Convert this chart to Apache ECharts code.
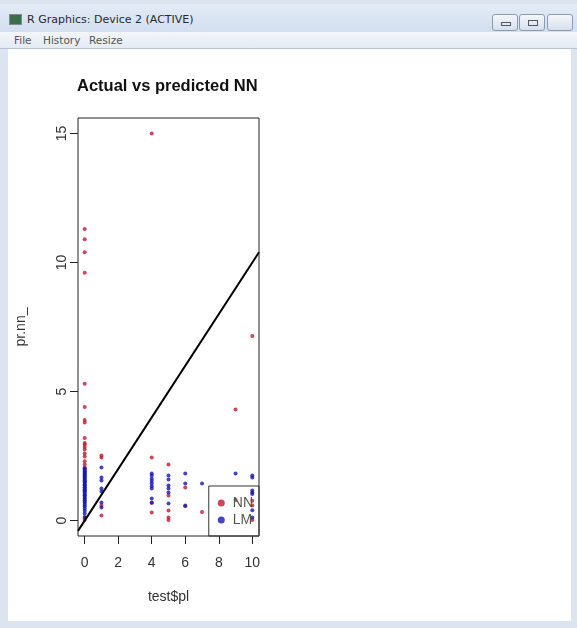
<!DOCTYPE html>
<html>
<head>
<meta charset="utf-8">
<title>Actual vs predicted NN</title>
<script src="https://cdn.jsdelivr.net/npm/echarts@6/dist/echarts.min.js"></script>
<style>
  html, body { margin: 0; padding: 0; background: #fff; }
  #win { position: relative; width: 577px; height: 628px; overflow: hidden;
         background: #dce5ef; font-family: "DejaVu Sans", "Noto Sans", sans-serif; }
  #titlebar { position: absolute; left: 0; top: 4px; width: 577px; height: 28px;
              background: linear-gradient(#e3ebf6, #d2dfef); }
  #titlebar .icon { position: absolute; left: 9px; top: 10px; width: 11px; height: 9px;
                    background: #3c6e4c; border: 1px solid #888; }
  #titlebar .txt { position: absolute; left: 27px; top: 9px; font-size: 11px; color: #2a2a2a; }
  .btn { position: absolute; top: 10px; width: 24px; height: 15px; border: 1px solid #8a9bb2;
         border-radius: 3px; background: linear-gradient(#f4f7fb, #d6e0ec); }
  .btn i { position: absolute; left: 8px; top: 5px; width: 8px; height: 4px; border: 1px solid #556; }
  #menubar { position: absolute; left: 0; top: 32px; width: 577px; height: 16px;
             background: linear-gradient(#f3f6fa, #e4ebf4); border-bottom: 1px solid #b8c4d4;
             font-size: 10.5px; color: #555; }
  #menubar span { position: absolute; top: 2px; }
  #body { position: absolute; left: 8px; top: 49px; width: 563px; height: 572px; background: #fff; }
  #main { position: absolute; left: 0; top: 0; width: 577px; height: 628px; }
</style>
</head>
<body>
<div id="win">
  <div id="titlebar">
    <div class="icon"></div>
    <div class="txt">R Graphics: Device 2 (ACTIVE)</div>
    <div class="btn" style="left:492px"><i style="height:2px;top:7px"></i></div>
    <div class="btn" style="left:519px"><i></i></div>
    <div class="btn" style="left:547px"></div>
  </div>
  <div id="menubar">
    <span style="left:14px">File</span>
    <span style="left:43px">History</span>
    <span style="left:89px">Resize</span>
  </div>
  <div id="body"></div>
  <div id="main"></div>
</div>
<script type="text/javascript">
// observed values (x = test$pl, y = predicted)
var nnX = [0,0,0,0,0,0,0,0,0,0,0,0,0,0,0,0,0,0,0,0,
           1,1,1,1,
           4,4,4,4,
           5,5,5,5,5,
           6,6,
           7,
           9,9,
           10,10,10,10];
var nnY = [11.3,10.9,10.4,9.6,5.3,4.4,3.9,3.8,3.2,3.0,2.95,2.85,2.75,2.6,2.48,2.3,2.17,2.05,0.1,0.02,
           2.52,2.44,0.58,0.19,
           15.0,2.44,0.68,0.31,
           2.17,0.97,0.39,0.12,0.02,
           1.28,0.55,
           0.33,
           4.3,0.8,
           7.15,0.77,0.58,0.02];

var lmX = [0,0,0,0,0,0,0,0,0,0,0,0,0,0,0,0,0,0,0,0,0,0,0,0,0,0,0,0,0,0,0,0,0,0,0,0,0,0,
           1,1,1,1,1,1,1,
           4,4,4,4,4,4,4,4,4,
           5,5,5,5,5,5,
           6,6,6,
           7,
           9,
           10,10,10,10,10,10,10];
var lmY = [2.02,1.98,1.93,1.9,1.85,1.82,1.77,1.74,1.71,1.66,1.63,1.57,1.55,1.5,1.47,1.41,1.38,1.35,1.29,1.26,
           1.21,1.17,1.13,1.08,1.04,0.98,0.95,0.88,0.84,0.79,0.73,0.69,0.61,0.55,0.47,0.38,0.27,0.14,
           2.05,1.67,1.55,1.24,1.12,0.7,0.5,
           1.82,1.74,1.62,1.53,1.43,1.33,1.24,0.85,0.7,
           1.74,1.59,1.36,1.24,1.09,0.66,
           1.82,1.43,0.58,
           1.43,
           1.82,
           1.74,1.67,1.16,1.09,1.03,0.4,0.12];

var xTicks = [0, 2, 4, 6, 8, 10];
var yTicks = [0, 5, 10, 15];
var xRange = [-0.4, 10.4];
var yRange = [-0.6, 15.6];
// abline(0, 1)
var ablineA = 0, ablineB = 1;

function zip(xs, ys) {
  var out = [];
  for (var i = 0; i < xs.length; i++) out.push([xs[i], ys[i]]);
  return out;
}
var ablineData = xRange.map(function (x) { return [x, ablineA + ablineB * x]; });

var FONT = '"Liberation Sans", Arial, sans-serif';
var myChart = echarts.init(document.getElementById('main'));
myChart.setOption({
  animation: false,
  backgroundColor: 'transparent',
  title: {
    text: 'Actual vs predicted NN',
    left: 77, top: 78, padding: 0,
    textStyle: { fontFamily: FONT, fontSize: 16.5, fontWeight: 'bold', color: '#111' }
  },
  grid: {
    left: 78, right: 318, top: 118, bottom: 92,
    show: true, borderColor: '#222', borderWidth: 1, backgroundColor: 'transparent'
  },
  legend: {
    orient: 'vertical',
    right: 318, bottom: 92,
    padding: [10, 6, 9, 9],
    itemGap: 3,
    itemWidth: 7, itemHeight: 7,
    icon: 'circle',
    borderColor: '#333', borderWidth: 1,
    backgroundColor: 'transparent',
    textStyle: { fontFamily: FONT, fontSize: 14, color: '#55594a', padding: [0, 0, 0, 3] },
    data: ['NN', 'LM']
  },
  xAxis: {
    type: 'value', min: xRange[0], max: xRange[1],
    splitLine: { show: false },
    axisLine: { show: false, onZero: false },
    axisTick: { show: true, inside: false, length: 8, customValues: xTicks,
                lineStyle: { color: '#222' } },
    axisLabel: { customValues: xTicks, margin: 20, fontFamily: FONT, fontSize: 14, color: '#333' },
    name: 'test$pl', nameLocation: 'middle', nameGap: 54,
    nameTextStyle: { fontFamily: FONT, fontSize: 14, color: '#333' }
  },
  yAxis: {
    type: 'value', min: yRange[0], max: yRange[1],
    splitLine: { show: false },
    axisLine: { show: false, onZero: false },
    axisTick: { show: true, inside: false, length: 8, customValues: yTicks,
                lineStyle: { color: '#222' } },
    axisLabel: { customValues: yTicks, rotate: 90, margin: 16, fontFamily: FONT, fontSize: 14,
                 color: '#333', verticalAlign: 'middle', align: 'center' },
    name: 'pr.nn_', nameLocation: 'middle', nameGap: 50, nameRotate: 90,
    nameTextStyle: { fontFamily: FONT, fontSize: 14, color: '#333' }
  },
  series: [
    {
      name: 'NN', type: 'scatter', symbol: 'circle', symbolSize: 4,
      itemStyle: { color: '#c4162f' },
      data: zip(nnX, nnY)
    },
    {
      name: 'LM', type: 'scatter', symbol: 'circle', symbolSize: 4,
      itemStyle: { color: '#1616b4' },
      data: zip(lmX, lmY)
    },
    {
      name: 'abline', type: 'line', showSymbol: false, symbol: 'none',
      lineStyle: { color: '#000', width: 2 },
      data: ablineData, silent: true
    }
  ]
});
</script>
</body>
</html>
